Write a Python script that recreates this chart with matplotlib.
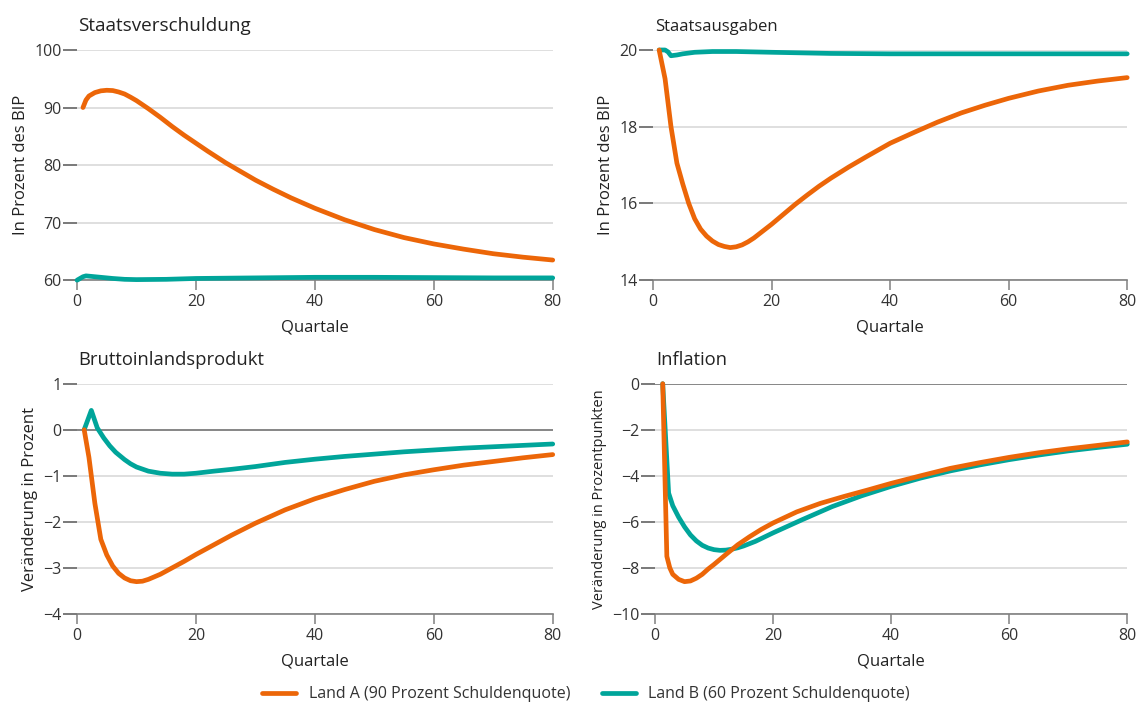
import matplotlib
matplotlib.use("Agg")
import matplotlib.pyplot as plt

plt.rcParams['font.family'] = ['Open Sans', 'DejaVu Sans']

ORANGE = '#ec6608'
TEAL = '#00a59a'
GRID = '#d9d9d9'
DARK = '#555555'

# Staatsverschuldung (in % des BIP)
debt_a_q = [1, 1.5, 2, 3, 4, 5, 6, 7, 8, 9, 10, 11, 12, 14, 16, 18, 20, 22, 25, 28, 30, 33, 36,
            40, 45, 50, 55, 60, 65, 70, 75, 80]
debt_a = [90.0, 91.3, 92.0, 92.6, 92.9, 93.0, 92.95, 92.7, 92.35, 91.8, 91.2, 90.5, 89.8, 88.3,
          86.7, 85.2, 83.8, 82.4, 80.4, 78.6, 77.4, 75.8, 74.3, 72.5, 70.5, 68.8, 67.4, 66.3,
          65.4, 64.6, 64.0, 63.5]
debt_b_q = [0, 1, 1.5, 2, 4, 6, 8, 10, 15, 20, 30, 40, 50, 60, 70, 80]
debt_b = [60.0, 60.6, 60.75, 60.7, 60.5, 60.3, 60.15, 60.1, 60.15, 60.3, 60.4, 60.5, 60.5, 60.45,
          60.4, 60.4]

# Staatsausgaben (in % des BIP)
spend_a_q = [1, 2, 3, 4, 5, 6, 7, 8, 9, 10, 11, 12, 13, 14, 15, 16, 17, 18, 19, 20, 22, 24, 26,
             28, 30, 33, 36, 40, 44, 48, 52, 56, 60, 65, 70, 75, 80]
spend_a = [20.0, 19.25, 18.0, 17.05, 16.5, 16.0, 15.6, 15.33, 15.15, 15.02, 14.93, 14.88, 14.85,
           14.87, 14.92, 15.0, 15.1, 15.22, 15.34, 15.46, 15.72, 15.98, 16.22, 16.45, 16.66,
           16.95, 17.22, 17.57, 17.85, 18.12, 18.36, 18.56, 18.74, 18.93, 19.08, 19.19, 19.28]
spend_b_q = [1, 2, 2.5, 3, 4, 5, 7, 10, 14, 20, 30, 40, 50, 60, 70, 80]
spend_b = [20.0, 20.0, 19.95, 19.85, 19.87, 19.9, 19.94, 19.96, 19.96, 19.94, 19.91, 19.9, 19.9,
           19.9, 19.9, 19.9]

# Bruttoinlandsprodukt (Veränderung in %)
gdp_a_q = [1.2, 2, 3, 4, 5, 6, 7, 8, 9, 10, 11, 12, 14, 16, 18, 20, 23, 26, 30, 35, 40, 45, 50,
           55, 60, 65, 70, 75, 80]
gdp_a = [0.0, -0.6, -1.6, -2.38, -2.72, -2.96, -3.12, -3.22, -3.28, -3.3, -3.29, -3.25, -3.14,
         -3.0, -2.86, -2.71, -2.5, -2.29, -2.03, -1.74, -1.5, -1.3, -1.12, -0.98, -0.87,
         -0.77, -0.69, -0.61, -0.54]
gdp_b_q = [1.2, 2.4, 3.4, 4.5, 5.5, 6.5, 8, 9, 10, 12, 14, 16, 18, 20, 23, 26, 30, 35, 40, 45,
           50, 55, 60, 65, 70, 75, 80]
gdp_b = [0.0, 0.42, 0.04, -0.18, -0.35, -0.49, -0.65, -0.74, -0.81, -0.9, -0.945, -0.965,
         -0.965, -0.945, -0.9, -0.86, -0.8, -0.71, -0.64, -0.58, -0.53, -0.48, -0.44, -0.4,
         -0.37, -0.34, -0.31]

# Inflation (Veränderung in Prozentpunkten)
infl_a_q = [1.3, 2, 2.5, 3, 4, 5, 6, 7, 8, 9, 10, 12, 14, 16, 18, 20, 24, 28, 32, 36, 40, 45,
            50, 55, 60, 65, 70, 75, 80]
infl_a = [0.0, -7.5, -8.0, -8.28, -8.5, -8.6, -8.57, -8.45, -8.28, -8.05, -7.85, -7.42, -7.0,
          -6.65, -6.33, -6.05, -5.57, -5.2, -4.9, -4.62, -4.33, -4.0, -3.68, -3.43, -3.2, -3.0,
          -2.83, -2.68, -2.53]
infl_b_q = [1.3, 2.3, 3, 4, 5, 6, 7, 8, 9, 10, 11, 12, 13, 14, 15, 17, 20, 25, 30, 35, 40, 45,
            50, 55, 60, 65, 70, 75, 80]
infl_b = [0.0, -4.75, -5.3, -5.8, -6.22, -6.57, -6.83, -7.02, -7.14, -7.21, -7.24, -7.23, -7.19,
          -7.13, -7.05, -6.85, -6.48, -5.9, -5.34, -4.87, -4.46, -4.1, -3.79, -3.53, -3.3, -3.1,
          -2.92, -2.77, -2.63]

x_ticks = [0, 20, 40, 60, 80]

panels = [
    dict(rect=[0.0677, 0.602, 0.418, 0.327], title='Staatsverschuldung', tsize=13.6,
         ylabel='In Prozent des BIP', ysize=12, ylim=(60, 100), yticks=[60, 70, 80, 90, 100],
         a=(debt_a_q, debt_a), b=(debt_b_q, debt_b), zero=None),
    dict(rect=[0.574, 0.602, 0.4165, 0.327], title='Staatsausgaben', tsize=12,
         ylabel='In Prozent des BIP', ysize=12, ylim=(14, 20), yticks=[14, 16, 18, 20],
         a=(spend_a_q, spend_a), b=(spend_b_q, spend_b), zero=None),
    dict(rect=[0.0677, 0.128, 0.418, 0.327], title='Bruttoinlandsprodukt', tsize=13.2,
         ylabel='Veränderung in Prozent', ysize=12, ylim=(-4, 1), yticks=[-4, -3, -2, -1, 0, 1],
         a=(gdp_a_q, gdp_a), b=(gdp_b_q, gdp_b), zero=0),
    dict(rect=[0.5756, 0.128, 0.415, 0.327], title='Inflation', tsize=13.2,
         ylabel='Veränderung in Prozentpunkten', ysize=10.5, ylim=(-10, 0),
         yticks=[-10, -8, -6, -4, -2, 0],
         a=(infl_a_q, infl_a), b=(infl_b_q, infl_b), zero=0),
]

fig = plt.figure(figsize=(11.38, 7.04), dpi=100)

for p in panels:
    ax = fig.add_axes(p['rect'])
    ax.set_xlim(0, 80)
    ax.set_ylim(*p['ylim'])
    ax.set_yticks(p['yticks'])
    ax.set_yticklabels([str(t).replace('-', '\u2212') for t in p['yticks']])
    ax.set_xticks(x_ticks)
    for t in p['yticks']:
        ax.axhline(t, color=GRID, lw=1.2, zorder=0)
    if p['zero'] is not None:
        ax.axhline(p['zero'], color='#707070', lw=1.1, zorder=1)
    for s in ['top', 'right', 'left']:
        ax.spines[s].set_visible(False)
    ax.spines['bottom'].set_color('#808080')
    ax.spines['bottom'].set_linewidth(1.2)
    ax.tick_params(axis='y', length=10, width=1.1, color=DARK, labelcolor='#333333',
                   labelsize=11.5, pad=1)
    ax.tick_params(axis='x', length=7, width=1.1, color='#808080', labelcolor='#333333',
                   labelsize=11.5, pad=3)
    ax.plot(*p['b'], color=TEAL, lw=3.4, solid_capstyle='round', solid_joinstyle='round',
            zorder=3, clip_on=False, label='Land B (60 Prozent Schuldenquote)')
    ax.plot(*p['a'], color=ORANGE, lw=3.4, solid_capstyle='round', solid_joinstyle='round',
            zorder=4, clip_on=False, label='Land A (90 Prozent Schuldenquote)')
    ax.set_xlabel('Quartale', fontsize=12, color='#222222', labelpad=7)
    ax.set_ylabel(p['ylabel'], fontsize=p['ysize'], color='#222222', labelpad=4)
    ax.text(0.003, 1.065, p['title'], transform=ax.transAxes, fontsize=p['tsize'],
            color='#222222', ha='left', va='bottom')

handles, labels = ax.get_legend_handles_labels()
fig.legend(handles[::-1], labels[::-1], loc='lower center', bbox_to_anchor=(0.515, -0.018),
           ncol=2, frameon=False, fontsize=11.5, handlelength=2.1, columnspacing=2.0,
           labelcolor='#333333')

fig.savefig('out.png', dpi=100)
